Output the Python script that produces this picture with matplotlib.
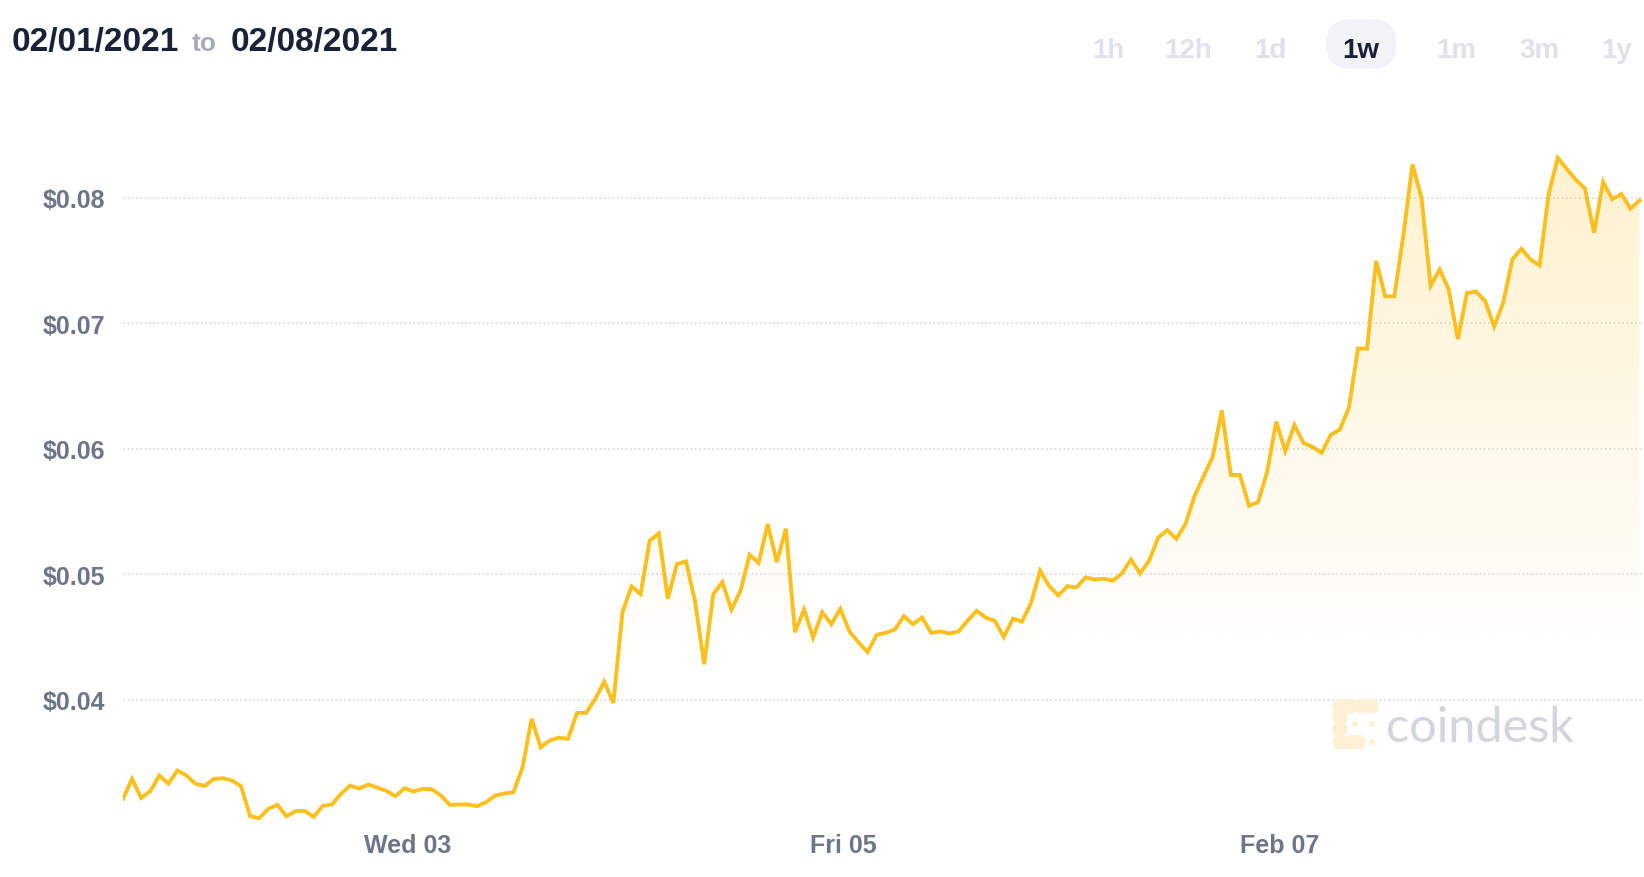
import numpy as np
import pandas as pd
import matplotlib
matplotlib.use("Agg")
import matplotlib.pyplot as plt
import matplotlib.dates as mdates
from matplotlib.patches import FancyBboxPatch, Circle
from matplotlib.transforms import IdentityTransform

# ---- data (hourly price, 1w range) ----
start_time = "2021-02-01 16:40"
prices = [
    0.03209, 0.03368, 0.03217, 0.03270, 0.03395, 0.03331, 0.03435, 0.03395, 0.03329, 0.03313,
    0.03368, 0.03374, 0.03355, 0.03310, 0.03071, 0.03055, 0.03130, 0.03161, 0.03071, 0.03111,
    0.03114, 0.03066, 0.03153, 0.03164, 0.03249, 0.03315, 0.03291, 0.03323, 0.03299, 0.03273,
    0.03230, 0.03294, 0.03268, 0.03289, 0.03286, 0.03236, 0.03161, 0.03164, 0.03164, 0.03151,
    0.03183, 0.03236, 0.03252, 0.03262, 0.03461, 0.03846, 0.03620, 0.03674, 0.03697, 0.03687,
    0.03894, 0.03894, 0.04005, 0.04143, 0.03973, 0.04695, 0.04902, 0.04841, 0.05266, 0.05324,
    0.04803, 0.05080, 0.05101, 0.04782, 0.04282, 0.04840, 0.04936, 0.04718, 0.04867, 0.05154,
    0.05090, 0.05399, 0.05096, 0.05362, 0.04537, 0.04718, 0.04495, 0.04697, 0.04601, 0.04723,
    0.04543, 0.04457, 0.04378, 0.04516, 0.04532, 0.04559, 0.04665, 0.04601, 0.04654, 0.04532,
    0.04543, 0.04527, 0.04543, 0.04628, 0.04707, 0.04654, 0.04628, 0.04500, 0.04644, 0.04622,
    0.04771, 0.05027, 0.04904, 0.04830, 0.04904, 0.04894, 0.04973, 0.04957, 0.04963, 0.04947,
    0.05005, 0.05117, 0.05005, 0.05106, 0.05292, 0.05350, 0.05281, 0.05398, 0.05621, 0.05780,
    0.05934, 0.06305, 0.05790, 0.05790, 0.05546, 0.05573, 0.05817, 0.06215, 0.05981, 0.06188,
    0.06045, 0.06013, 0.05966, 0.06109, 0.06151, 0.06326, 0.06797, 0.06797, 0.07496, 0.07213,
    0.07213, 0.07699, 0.08264, 0.07997, 0.07299, 0.07427, 0.07267, 0.06872, 0.07240, 0.07251,
    0.07176, 0.06973, 0.07165, 0.07507, 0.07592, 0.07507, 0.07459, 0.08029, 0.08317, 0.08227,
    0.08141, 0.08072, 0.07720, 0.08125, 0.07987, 0.08029, 0.07912, 0.07976,
]
y_ticks = [0.04, 0.05, 0.06, 0.07, 0.08]
y_tick_labels = ["$0.04", "$0.05", "$0.06", "$0.07", "$0.08"]
x_tick_dates = ["2021-02-03", "2021-02-05", "2021-02-07"]
x_tick_labels = ["Wed 03", "Fri 05", "Feb 07"]
range_buttons = ["1h", "12h", "1d", "1w", "1m", "3m", "1y"]
active_button = "1w"
date_from = "02/01/2021"
date_to = "02/08/2021"

times = pd.date_range(start_time, periods=len(prices), freq="h")

LINE = "#fbc01e"
DARK = "#1b2237"
GRAY = "#6f7588"

W, H = 1644, 878
fig = plt.figure(figsize=(W / 100, H / 100), dpi=100)
fig.patch.set_facecolor("white")

def fx(x):
    return x / W

def fy(y):
    return 1 - y / H

ax = fig.add_axes([fx(123), fy(830), fx(1644) - fx(123), fy(150) - fy(830)])
ax.set_facecolor("white")

y_bot, y_top = 0.02969, 0.08387
t0 = mdates.date2num(times[0])
t1 = t0 + 167.5 / 24

ax.plot(times, prices, color=LINE, lw=2.8, zorder=3, solid_joinstyle="miter")

# gradient fill under the line
poly = ax.fill_between(times, prices, y_bot, facecolor="none", edgecolor="none")
vv = np.linspace(y_bot, y_top, 300)
alpha = np.clip((vv - 0.042) / 0.038, 0, 1.1) * 0.2
rgba = np.zeros((300, 1, 4))
rgba[:, 0, :3] = matplotlib.colors.to_rgb(LINE)
rgba[:, 0, 3] = alpha
grad = ax.imshow(rgba, extent=[t0, t1, y_bot, y_top], origin="lower",
                 aspect="auto", zorder=2, interpolation="bilinear")
grad.set_clip_path(poly.get_paths()[0], ax.transData)

ax.set_xlim(t0, t1)
ax.set_ylim(y_bot, y_top)

ax.set_yticks(y_ticks)
ax.set_yticklabels(y_tick_labels)
ax.set_xticks([mdates.date2num(pd.Timestamp(d)) for d in x_tick_dates])
ax.set_xticklabels(x_tick_labels)
ax.tick_params(axis="y", length=0, pad=13, labelsize=18, labelcolor=GRAY)
ax.tick_params(axis="x", length=0, pad=3, labelsize=18, labelcolor=GRAY)
for lab in ax.get_xticklabels() + ax.get_yticklabels():
    lab.set_fontfamily("Liberation Sans")
    lab.set_fontweight("bold")

ax.grid(axis="y", color="#d3d8ea", lw=1.2, linestyle=(0, (1, 1.6)))
ax.grid(axis="x", visible=False)
ax.set_axisbelow(True)
for sp in ax.spines.values():
    sp.set_visible(False)

# header: date range
fig.text(fx(12), fy(51), date_from, fontsize=24, fontweight="bold",
         color=DARK, family="Liberation Sans", va="baseline")
fig.text(fx(192), fy(51), "to", fontsize=19, fontweight="bold",
         color="#a7aab7", family="Liberation Sans", va="baseline")
fig.text(fx(231), fy(51), date_to, fontsize=24, fontweight="bold",
         color=DARK, family="Liberation Sans", va="baseline")

# range buttons
btn_x = [1108, 1188, 1270, 1361, 1456, 1539, 1617]
for lab, bx in zip(range_buttons, btn_x):
    if lab == active_button:
        pill = FancyBboxPatch((bx - 35, H - 70), 70, 50,
                              boxstyle="round,pad=0,rounding_size=25",
                              facecolor="#f2f3f7", edgecolor="none",
                              transform=IdentityTransform())
        fig.add_artist(pill)
        col = DARK
    else:
        col = "#dfe2ea"
    fig.text(fx(bx), fy(58), lab, fontsize=20, fontweight="bold", color=col,
             family="Liberation Sans", ha="center", va="baseline")

# coindesk watermark
logo_col = "#fdf0d3"
blobs = [(1340, 707), (1340, 718), (1340, 730), (1340, 743), (1351, 707),
         (1362, 707), (1371, 707), (1350, 743), (1358, 743)]
for cx, cy in blobs:
    fig.add_artist(Circle((cx, H - cy), 7.5, facecolor=logo_col, edgecolor="none",
                          transform=IdentityTransform()))
for cx, cy in [(1355, 725), (1372, 725), (1372, 743)]:
    fig.add_artist(Circle((cx, H - cy), 3, facecolor=logo_col, edgecolor="none",
                          transform=IdentityTransform()))
fig.text(fx(1386), fy(742), "coindesk", fontsize=35, fontweight="normal",
         color="#d3d5dd", family="Lato", va="baseline")

fig.savefig("out.png", dpi=100)
